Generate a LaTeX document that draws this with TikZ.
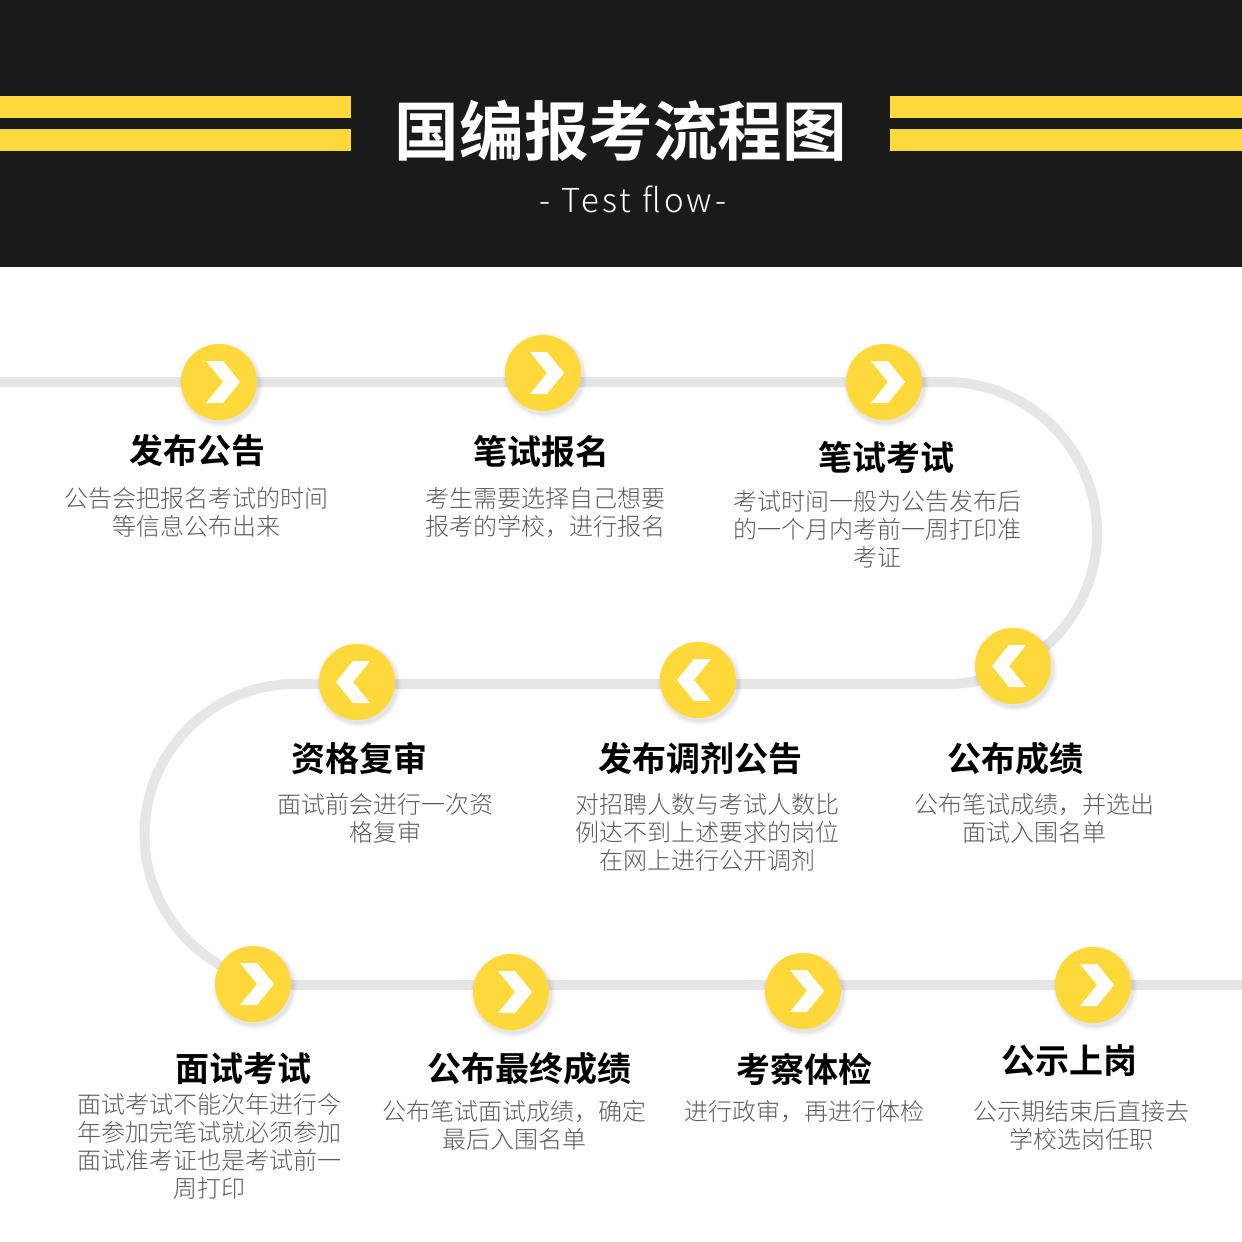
\documentclass[tikz,border=0pt]{standalone}
\usepackage{fontspec}
\setmainfont{Noto Sans CJK SC}
\newfontfamily\cjkbold{Noto Sans CJK SC Bold}
\newfontfamily\cjklight{Noto Sans CJK SC Light}
\newfontfamily\testfont[LetterSpace=10]{Noto Sans CJK SC Light}
\definecolor{hdr}{HTML}{1A1A1A}
\definecolor{ylw}{HTML}{FFD83A}
\definecolor{trk}{HTML}{E6E6E6}
\definecolor{dsc}{HTML}{5C5C5C}
\usetikzlibrary{calc}
\tikzset{
  x=1pt,y=-1pt,
  track/.style={draw=trk,line width=10pt,line cap=butt},
  bar/.style={fill=ylw,draw=none},
  heading/.style={inner sep=0pt,font=\cjkbold\fontsize{34}{38}\selectfont,text=black},
  desc/.style={inner sep=0pt,align=center,text=dsc,font=\cjklight\fontsize{24}{28}\selectfont},
  disc/.style={circle,fill=ylw,draw=none,minimum size=76pt,inner sep=0pt},
}
\newcommand{\stopdisc}[3]{% name, x y, direction
  \foreach \r/\o in {43/.01,42/.015,41/.02,40/.025,39/.03}
    \fill[black,opacity=\o] (#2)++(2,3) circle[radius=\r pt];
  \node[disc] (#1) at (#2) {};
  \fill[white] ($(#1)+(#3*21,0)$) -- ($(#1)+(#3*4,-21)$) -- ($(#1)+(-#3*13,-21)$)
     -- ($(#1)+(#3*4,0)$) -- ($(#1)+(-#3*13,21)$) -- ($(#1)+(#3*4,21)$) -- cycle;
}
\begin{document}
\begin{tikzpicture}
\useasboundingbox (0,0) rectangle (1242,1242);
\fill[white] (0,0) rectangle (1242,1242);
\fill[hdr] (0,0) rectangle (1242,267);
\fill[bar] (0,96) rectangle (351,118);
\fill[bar] (0,129) rectangle (351,151);
\fill[bar] (890,96) rectangle (1242,118);
\fill[bar] (890,129) rectangle (1242,151);
\node[inner sep=0pt,text=white,font=\cjkbold\fontsize{64.6}{70}\selectfont] (title) at (621,131) {国编报考流程图};
\node[inner sep=0pt,text=white,font=\testfont\fontsize{33}{36}\selectfont] (sub) at (633,199) {- Test flow-};

\coordinate (startL) at (0,382);
\coordinate (arcR) at (946,382);
\coordinate (arcL) at (295,684);
\coordinate (endR) at (1242,985);
\draw[track] (startL) -- (arcR) arc[start angle=-90,end angle=90,radius=151]
   -- (arcL) arc[start angle=-90,end angle=-270,radius=150.5] -- (endR);

\stopdisc{a}{219,382}{1}
\stopdisc{b}{543,373}{1}
\stopdisc{c}{884,382}{1}
\stopdisc{d}{1013,666}{-1}
\stopdisc{e}{698,680}{-1}
\stopdisc{f}{357,682}{-1}
\stopdisc{g}{253,984}{1}
\stopdisc{h}{511,992}{1}
\stopdisc{i}{803,991}{1}
\stopdisc{j}{1093,985}{1}

\node[heading] (ta) at (197,451) {发布公告};
\node[desc] (da) at (196,512) {公告会把报名考试的时间\\等信息公布出来};
\node[heading] (tb) at (541.5,451) {笔试报名};
\node[desc] (db) at (545,512.5) {考生需要选择自己想要\\报考的学校，进行报名};
\node[heading] (tc) at (886,457.5) {笔试考试};
\node[desc] (dc) at (877,529) {考试时间一般为公告发布后\\的一个月内考前一周打印准\\考证};
\node[heading] (tf) at (359.5,758) {资格复审};
\node[desc] (df) at (385,818) {面试前会进行一次资\\格复审};
\node[heading] (te) at (700,759) {发布调剂公告};
\node[desc] (de) at (707,832) {对招聘人数与考试人数比\\例达不到上述要求的岗位\\在网上进行公开调剂};
\node[heading] (td) at (1015,759) {公布成绩};
\node[desc] (dd) at (1034,818) {公布笔试成绩，并选出\\面试入围名单};
\node[heading] (tg) at (243,1069) {面试考试};
\node[desc] (dg) at (209,1146) {面试考试不能次年进行今\\年参加完笔试就必须参加\\面试准考证也是考试前一\\周打印};
\node[heading] (th) at (529,1069) {公布最终成绩};
\node[desc] (dh) at (514,1125) {公布笔试面试成绩，确定\\最后入围名单};
\node[heading] (ti) at (804,1069) {考察体检};
\node[desc] (di) at (804,1111) {进行政审，再进行体检};
\node[heading] (tj) at (1069,1061) {公示上岗};
\node[desc] (dj) at (1081,1125) {公示期结束后直接去\\学校选岗任职};
\end{tikzpicture}
\end{document}
